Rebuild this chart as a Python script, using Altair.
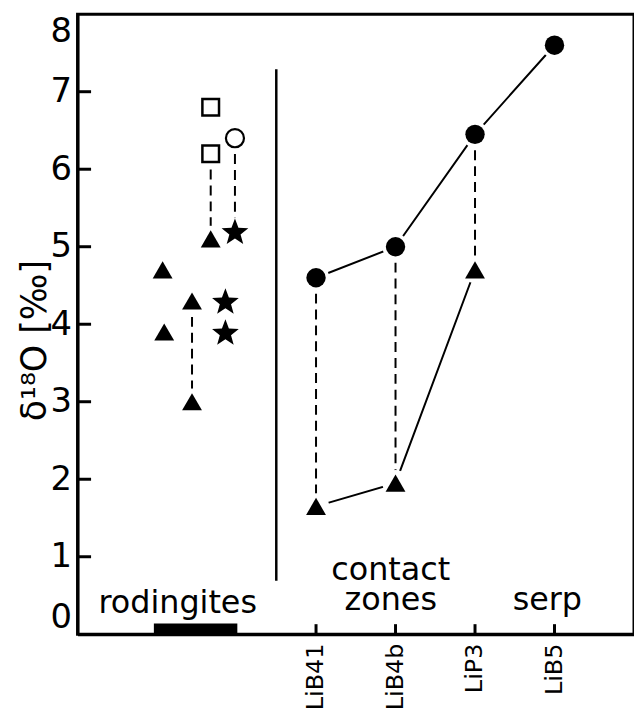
import altair as alt
import pandas as pd

# ---------------- data ----------------
y_ticks = [0, 1, 2, 3, 4, 5, 6, 7, 8]
y_inner_ticks = [1, 2, 3, 4, 5, 6, 7]

# contact zones / serpentinite samples
samples = ["LiB41", "LiB4b", "LiP3", "LiB5"]
sample_pos = [3, 4, 5, 6]
circ_vals = [4.6, 5.0, 6.45, 7.6]          # filled circles
tri_samples_pos = [3, 4, 5]
tri_vals = [1.65, 1.95, 4.7]               # filled triangles

# rodingites
rod_tri_x = [1.07, 1.09, 1.44, 1.44, 1.675]
rod_tri_y = [4.7, 3.9, 4.3, 3.0, 5.1]
rod_star_x = [1.86, 1.86, 1.98]
rod_star_y = [3.9, 4.3, 5.2]
rod_sq_x = [1.675, 1.675]
rod_sq_y = [6.8, 6.2]
rod_oc_x = [1.98]
rod_oc_y = [6.4]

# dashed links
link_x = [1.44, 1.675, 1.98, 3, 4, 5]
link_y1 = [4.3, 6.2, 6.4, 4.6, 5.0, 6.45]
link_y2 = [3.0, 5.1, 5.2, 1.65, 1.95, 4.7]

# separator and rodingite bar
sep_x = [2.5]
sep_y1 = [0.69]
sep_y2 = [7.29]
bar_x1 = [0.96]
bar_x2 = [2.01]
bar_y1 = [0.0]
bar_y2 = [0.14]

# annotations
ann_text = ["rodingites", "contact\nzones", "serp"]
ann_x = [1.26, 3.94, 5.91]
ann_y = [0.28, 0.70, 0.31]

# ---------------- tables ----------------
circ_df = pd.DataFrame({"x": sample_pos, "y": circ_vals})
tri_c_df = pd.DataFrame({"x": tri_samples_pos, "y": tri_vals})
rod_tri_df = pd.DataFrame({"x": rod_tri_x, "y": rod_tri_y})
star_df = pd.DataFrame({"x": rod_star_x, "y": rod_star_y})
sq_df = pd.DataFrame({"x": rod_sq_x, "y": rod_sq_y})
oc_df = pd.DataFrame({"x": rod_oc_x, "y": rod_oc_y})
all_tri = pd.concat([tri_c_df, rod_tri_df])
halo_df = pd.concat([circ_df, all_tri, star_df, sq_df, oc_df])
link_df = pd.DataFrame({"x": link_x, "y": link_y1, "y2": link_y2})
sep_df = pd.DataFrame({"x": sep_x, "y": sep_y1, "y2": sep_y2})
bar_df = pd.DataFrame({"x": bar_x1, "x2": bar_x2, "y": bar_y1, "y2": bar_y2})
ann_df = pd.DataFrame({"t": ann_text, "x": ann_x, "y": ann_y})
ytick_df = pd.DataFrame({"y": y_inner_ticks, "x": [0] * len(y_inner_ticks),
                         "x2": [0.17] * len(y_inner_ticks)})
xtick_df = pd.DataFrame({"x": sample_pos, "y": [0] * len(sample_pos),
                         "y2": [0.13] * len(sample_pos)})

label_map = "{" + ",".join(f"'{p}':'{s}'" for p, s in zip(sample_pos, samples)) + "}"
FONT = "DejaVu Sans"

x_axis = alt.Axis(values=sample_pos, labelExpr=label_map + "[datum.value]",
                  labelAngle=270, labelFontSize=24, labelPadding=9,
                  ticks=False, grid=False, title=None, labelFont=FONT,
                  labelColor="black", domainColor="black", domainWidth=3)
y_axis = alt.Axis(values=y_ticks, labelFontSize=34, labelFlush=True,
                  labelPadding=6, ticks=False, grid=False,
                  title="δ¹⁸O [‰]", titleFontSize=35, titleFontWeight="normal",
                  titleFont=FONT, titleColor="black", titlePadding=-2, titleY=328,
                  labelFont=FONT, labelColor="black",
                  domainColor="black", domainWidth=3)
xs = alt.Scale(domain=[0, 7], nice=False, zero=False)
ys = alt.Scale(domain=[0, 8], nice=False, zero=False)


def X(f="x"):
    return alt.X(f"{f}:Q", scale=xs, axis=x_axis)


def Y(f="y"):
    return alt.Y(f"{f}:Q", scale=ys, axis=y_axis)


STAR = ("M0,-0.905L0.247,-0.245L0.951,-0.214L0.399,0.225L0.588,0.904"
        "L0,0.515L-0.588,0.904L-0.399,0.225L-0.951,-0.214L-0.247,-0.245Z")

circ_line = alt.Chart(circ_df).mark_line(color="black", strokeWidth=2).encode(x=X(), y=Y())
tri_line = alt.Chart(tri_c_df).mark_line(color="black", strokeWidth=2).encode(x=X(), y=Y())
links = alt.Chart(link_df).mark_rule(color="black", strokeWidth=2, strokeDash=[10, 6]).encode(
    x=X(), y=Y(), y2="y2:Q")
sep = alt.Chart(sep_df).mark_rule(color="black", strokeWidth=2.5).encode(x=X(), y=Y(), y2="y2:Q")
halo = alt.Chart(halo_df).mark_point(shape="circle", filled=True, color="white",
                                     size=700, opacity=1).encode(x=X(), y=Y())
circ_pts = alt.Chart(circ_df).mark_point(shape="circle", filled=True, color="black",
                                         size=380, opacity=1).encode(x=X(), y=Y())
tri_pts = alt.Chart(all_tri).mark_point(shape="triangle-up", filled=True, color="black",
                                        size=400, opacity=1).encode(x=X(), y=Y())
star_pts = alt.Chart(star_df).mark_point(shape=STAR, filled=True, color="black",
                                         size=800, opacity=1).encode(x=X(), y=Y())
sq_pts = alt.Chart(sq_df).mark_point(shape="square", filled=False, color="black",
                                     strokeWidth=2.5, size=280, opacity=1).encode(x=X(), y=Y())
oc_pts = alt.Chart(oc_df).mark_point(shape="circle", filled=False, color="black",
                                     strokeWidth=2.2, size=330, opacity=1).encode(x=X(), y=Y())
bar = alt.Chart(bar_df).mark_rect(color="black").encode(x=X(), x2="x2:Q", y=Y(), y2="y2:Q")
yt = alt.Chart(ytick_df).mark_rule(color="black", strokeWidth=3).encode(x=X(), x2="x2:Q", y=Y())
xt = alt.Chart(xtick_df).mark_rule(color="black", strokeWidth=3).encode(x=X(), y=Y(), y2="y2:Q")
ann = alt.Chart(ann_df).mark_text(font=FONT, fontSize=32, color="black", align="center",
                                  baseline="alphabetic", lineBreak="\n",
                                  lineHeight=30).encode(x=X(), y=Y(), text="t:N")

chart = alt.layer(
    circ_line, tri_line, links, sep, halo, circ_pts, tri_pts, star_pts, sq_pts, oc_pts,
    bar, yt, xt, ann
).properties(
    width=560, height=624,
    background="white",
    padding={"left": 9, "top": 4, "right": 0, "bottom": 0},
).configure_view(
    stroke="black", strokeWidth=3
)

chart.save("out.html", embed_options={"renderer": "svg", "actions": False})
